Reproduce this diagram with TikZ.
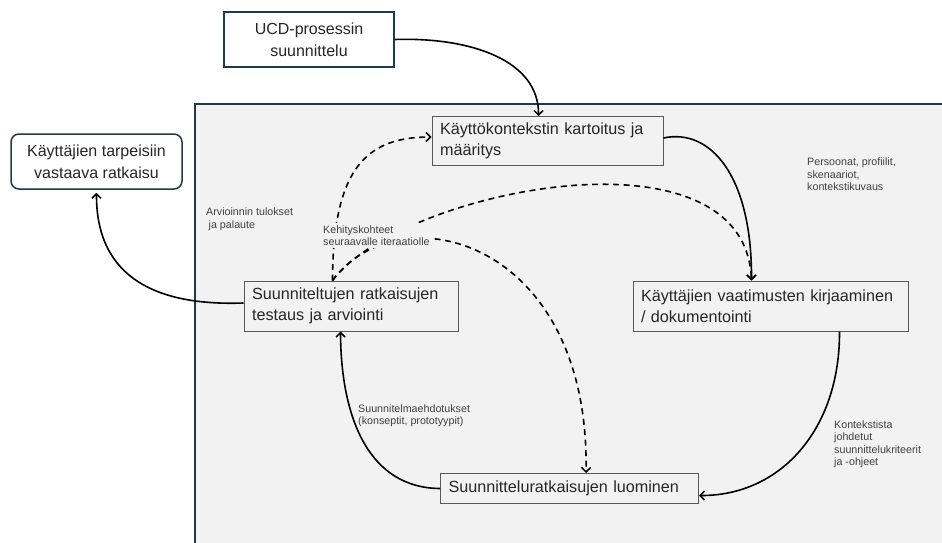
\documentclass[tikz,border=0pt]{standalone}
\usepackage{fontspec}
\setmainfont{Liberation Sans}
\usetikzlibrary{arrows.meta,calc}
\definecolor{navy}{HTML}{1F3A4D}
\definecolor{panelgray}{HTML}{F2F2F2}
\definecolor{boxline}{HTML}{595959}
\definecolor{txt}{HTML}{262626}
\definecolor{lbl}{HTML}{404040}
\begin{document}
\begin{tikzpicture}[x=1pt,y=-1pt,
  bigbox/.style={draw=navy, line width=1.5pt, fill=white, text=txt,
    font=\fontsize{16}{22}\selectfont, align=center, inner sep=0pt},
  procbox/.style={draw=boxline, line width=1pt, fill=panelgray, text=txt,
    font=\fontsize{16.2}{21}\selectfont, align=left, inner xsep=8pt, inner ysep=0pt},
  lab/.style={text=lbl, font=\fontsize{10.7}{12.3}\selectfont, align=left,
    inner sep=0pt, anchor=north west},
  flow/.style={line width=1.6pt, -{Straight Barb[length=4.5pt,width=9pt,line width=1.5pt]}},
  feedback/.style={flow, dash pattern=on 6pt off 4.5pt}]
\useasboundingbox (0,0) rectangle (942,543);
% panel
\draw[navy, line width=2pt, fill=panelgray] (195,104) rectangle (960,560);

% nodes
\node[bigbox, minimum width=170pt, minimum height=55pt] (ucd) at (309,39.5)
  {UCD-prosessin\\suunnittelu};
\node[bigbox, rounded corners=8pt, minimum width=171pt, minimum height=55pt] (need) at (96.5,161.5)
  {Käyttäjien tarpeisiin\\vastaava ratkaisu};
\node[procbox, text width=215pt, minimum height=49pt] (kk) at (547.5,141)
  {Käyttökontekstin kartoitus ja\\määritys};
\node[procbox, text width=259pt, minimum height=50pt] (vaat) at (770.5,306)
  {Käyttäjien vaatimusten kirjaaminen\\/ dokumentointi};
\node[procbox, text width=198pt, minimum height=50pt] (suun) at (351,306)
  {Suunniteltujen ratkaisujen\\testaus ja arviointi};
\node[procbox, text width=242pt, minimum height=30pt] (luo) at (569.5,488.5)
  {Suunnitteluratkaisujen luominen};

% attach points
\coordinate (kkin) at ($(kk.north west)+(107,0)$);
\coordinate (kkout) at ($(kk.east)+(0,-3)$);
\coordinate (kkfb) at ($(kk.west)+(0,-4)$);
\coordinate (vaatin) at ($(vaat.north west)+(119,0)$);
\coordinate (vaatout) at ($(vaat.south west)+(207,0)$);
\coordinate (luoin) at ($(luo.east)+(0,7)$);
\coordinate (luofb) at ($(luo.north west)+(146,0)$);
\coordinate (suunin) at ($(suun.south west)+(97,0)$);
\coordinate (suunout) at ($(suun.west)+(0,-3)$);
\coordinate (suunfb) at ($(suun.north west)+(89,0)$);
\coordinate (needin) at ($(need.south)+(0,3)$);

% solid connectors
\draw[flow] (ucd.east) .. controls (470,37) and (539,60) .. (kkin);
\draw[flow] (kkout) .. controls (710,128) and (752,175) .. (vaatin);
\draw[flow] (vaatout) .. controls (840,430) and (780,496) .. (luoin);
\draw[flow] (luo.west) .. controls (370,488) and (341,420) .. (suunin);
\draw[flow] (suunout) .. controls (160,306) and (96,280) .. (needin);

% dashed feedback connectors
\draw[feedback] (suunfb) .. controls (333,170) and (365,137) .. (kkfb);
\draw[feedback] (suunfb) .. controls (400,190) and (745,120) .. (vaatin);
\draw[feedback] (suunfb) .. controls (400,190) and (590,240) .. (luofb);

% labels
\node[lab] (l1) at (206,208) {Arvioinnin tulokset\\\hspace*{2.5pt}ja palaute};
\node[lab, fill=panelgray, inner sep=2.5pt] (l2) at (320.5,223)
  {Kehityskohteet\\seuraavalle iteraatiolle};
\node[lab] (l3) at (807,158) {Persoonat, profiilit,\\skenaariot,\\kontekstikuvaus};
\node[lab] (l4) at (358,404.5) {Suunnitelmaehdotukset\\(konseptit, prototyypit)};
\node[lab] (l5) at (834,420.5) {Kontekstista\\johdetut\\suunnittelukriteerit\\ja -ohjeet};
\end{tikzpicture}
\end{document}
